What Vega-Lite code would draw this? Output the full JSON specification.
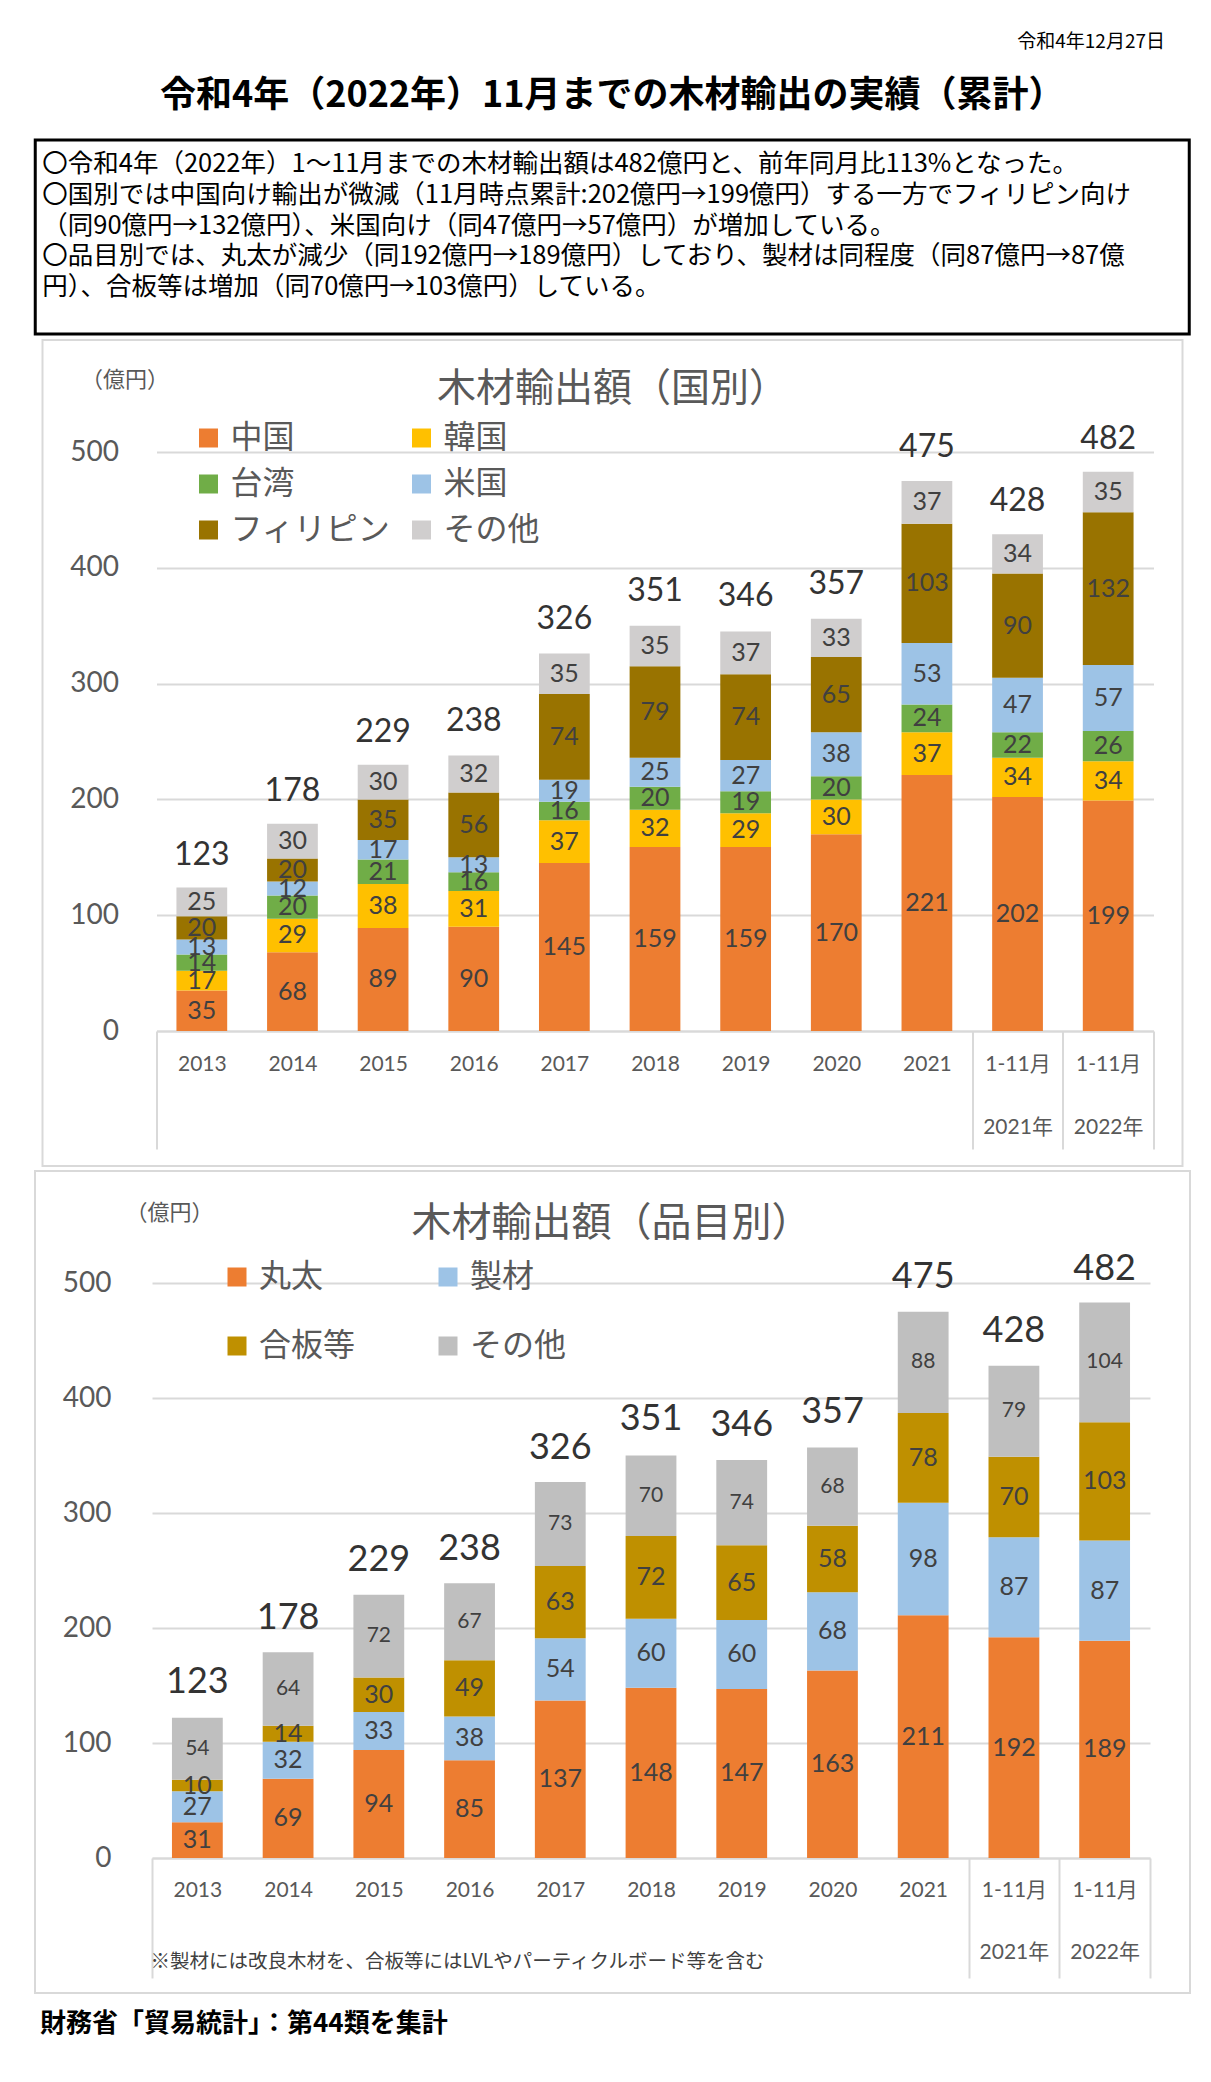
{
  "$schema": "https://vega.github.io/schema/vega-lite/v6.json",
  "background": "white",
  "padding": {"left": 33, "top": 32, "right": 0, "bottom": 0},
  "title": {"text": "令和4年12月27日", "anchor": "end", "fontSize": 19, "fontWeight": "normal", "font": "Noto Sans CJK JP", "color": "#000000", "dx": -26, "offset": 25},
  "spacing": 3,
  "center": true,
  "resolve": {"scale": {"color": "independent", "size": "independent"}, "legend": {"color": "independent"}},
  "datasets": {
    "notes": [
      {"line": 1, "text": "〇令和4年（2022年）1～11月までの木材輸出額は482億円と、前年同月比113%となった。"},
      {"line": 2, "text": "〇国別では中国向け輸出が微減（11月時点累計:202億円→199億円）する一方でフィリピン向け"},
      {"line": 3, "text": "（同90億円→132億円）、米国向け（同47億円→57億円）が増加している。"},
      {"line": 4, "text": "〇品目別では、丸太が減少（同192億円→189億円）しており、製材は同程度（同87億円→87億"},
      {"line": 5, "text": "円）、合板等は増加（同70億円→103億円）している。"}
    ],
    "footer": [{"text": "財務省「貿易統計」：第44類を集計"}],
    "countrySeries": [
      {"country": "中国", "rank": 1}, {"country": "韓国", "rank": 2}, {"country": "台湾", "rank": 3},
      {"country": "米国", "rank": 4}, {"country": "フィリピン", "rank": 5}, {"country": "その他", "rank": 6}
    ],
    "itemSeries": [
      {"item": "丸太", "rank": 1}, {"item": "製材", "rank": 2}, {"item": "合板等", "rank": 3}, {"item": "その他", "rank": 4}
    ],
    "country": [
      {"period": "2013", "country": "中国", "value": 35}, {"period": "2013", "country": "韓国", "value": 17}, {"period": "2013", "country": "台湾", "value": 14}, {"period": "2013", "country": "米国", "value": 13}, {"period": "2013", "country": "フィリピン", "value": 20}, {"period": "2013", "country": "その他", "value": 25},
      {"period": "2014", "country": "中国", "value": 68}, {"period": "2014", "country": "韓国", "value": 29}, {"period": "2014", "country": "台湾", "value": 20}, {"period": "2014", "country": "米国", "value": 12}, {"period": "2014", "country": "フィリピン", "value": 20}, {"period": "2014", "country": "その他", "value": 30},
      {"period": "2015", "country": "中国", "value": 89}, {"period": "2015", "country": "韓国", "value": 38}, {"period": "2015", "country": "台湾", "value": 21}, {"period": "2015", "country": "米国", "value": 17}, {"period": "2015", "country": "フィリピン", "value": 35}, {"period": "2015", "country": "その他", "value": 30},
      {"period": "2016", "country": "中国", "value": 90}, {"period": "2016", "country": "韓国", "value": 31}, {"period": "2016", "country": "台湾", "value": 16}, {"period": "2016", "country": "米国", "value": 13}, {"period": "2016", "country": "フィリピン", "value": 56}, {"period": "2016", "country": "その他", "value": 32},
      {"period": "2017", "country": "中国", "value": 145}, {"period": "2017", "country": "韓国", "value": 37}, {"period": "2017", "country": "台湾", "value": 16}, {"period": "2017", "country": "米国", "value": 19}, {"period": "2017", "country": "フィリピン", "value": 74}, {"period": "2017", "country": "その他", "value": 35},
      {"period": "2018", "country": "中国", "value": 159}, {"period": "2018", "country": "韓国", "value": 32}, {"period": "2018", "country": "台湾", "value": 20}, {"period": "2018", "country": "米国", "value": 25}, {"period": "2018", "country": "フィリピン", "value": 79}, {"period": "2018", "country": "その他", "value": 35},
      {"period": "2019", "country": "中国", "value": 159}, {"period": "2019", "country": "韓国", "value": 29}, {"period": "2019", "country": "台湾", "value": 19}, {"period": "2019", "country": "米国", "value": 27}, {"period": "2019", "country": "フィリピン", "value": 74}, {"period": "2019", "country": "その他", "value": 37},
      {"period": "2020", "country": "中国", "value": 170}, {"period": "2020", "country": "韓国", "value": 30}, {"period": "2020", "country": "台湾", "value": 20}, {"period": "2020", "country": "米国", "value": 38}, {"period": "2020", "country": "フィリピン", "value": 65}, {"period": "2020", "country": "その他", "value": 33},
      {"period": "2021", "country": "中国", "value": 221}, {"period": "2021", "country": "韓国", "value": 37}, {"period": "2021", "country": "台湾", "value": 24}, {"period": "2021", "country": "米国", "value": 53}, {"period": "2021", "country": "フィリピン", "value": 103}, {"period": "2021", "country": "その他", "value": 37},
      {"period": "2021年1-11月", "country": "中国", "value": 202}, {"period": "2021年1-11月", "country": "韓国", "value": 34}, {"period": "2021年1-11月", "country": "台湾", "value": 22}, {"period": "2021年1-11月", "country": "米国", "value": 47}, {"period": "2021年1-11月", "country": "フィリピン", "value": 90}, {"period": "2021年1-11月", "country": "その他", "value": 34},
      {"period": "2022年1-11月", "country": "中国", "value": 199}, {"period": "2022年1-11月", "country": "韓国", "value": 34}, {"period": "2022年1-11月", "country": "台湾", "value": 26}, {"period": "2022年1-11月", "country": "米国", "value": 57}, {"period": "2022年1-11月", "country": "フィリピン", "value": 132}, {"period": "2022年1-11月", "country": "その他", "value": 35}
    ],
    "item": [
      {"period": "2013", "item": "丸太", "value": 31}, {"period": "2013", "item": "製材", "value": 27}, {"period": "2013", "item": "合板等", "value": 10}, {"period": "2013", "item": "その他", "value": 54},
      {"period": "2014", "item": "丸太", "value": 69}, {"period": "2014", "item": "製材", "value": 32}, {"period": "2014", "item": "合板等", "value": 14}, {"period": "2014", "item": "その他", "value": 64},
      {"period": "2015", "item": "丸太", "value": 94}, {"period": "2015", "item": "製材", "value": 33}, {"period": "2015", "item": "合板等", "value": 30}, {"period": "2015", "item": "その他", "value": 72},
      {"period": "2016", "item": "丸太", "value": 85}, {"period": "2016", "item": "製材", "value": 38}, {"period": "2016", "item": "合板等", "value": 49}, {"period": "2016", "item": "その他", "value": 67},
      {"period": "2017", "item": "丸太", "value": 137}, {"period": "2017", "item": "製材", "value": 54}, {"period": "2017", "item": "合板等", "value": 63}, {"period": "2017", "item": "その他", "value": 73},
      {"period": "2018", "item": "丸太", "value": 148}, {"period": "2018", "item": "製材", "value": 60}, {"period": "2018", "item": "合板等", "value": 72}, {"period": "2018", "item": "その他", "value": 70},
      {"period": "2019", "item": "丸太", "value": 147}, {"period": "2019", "item": "製材", "value": 60}, {"period": "2019", "item": "合板等", "value": 65}, {"period": "2019", "item": "その他", "value": 74},
      {"period": "2020", "item": "丸太", "value": 163}, {"period": "2020", "item": "製材", "value": 68}, {"period": "2020", "item": "合板等", "value": 58}, {"period": "2020", "item": "その他", "value": 68},
      {"period": "2021", "item": "丸太", "value": 211}, {"period": "2021", "item": "製材", "value": 98}, {"period": "2021", "item": "合板等", "value": 78}, {"period": "2021", "item": "その他", "value": 88},
      {"period": "2021年1-11月", "item": "丸太", "value": 192}, {"period": "2021年1-11月", "item": "製材", "value": 87}, {"period": "2021年1-11月", "item": "合板等", "value": 70}, {"period": "2021年1-11月", "item": "その他", "value": 79},
      {"period": "2022年1-11月", "item": "丸太", "value": 189}, {"period": "2022年1-11月", "item": "製材", "value": 87}, {"period": "2022年1-11月", "item": "合板等", "value": 103}, {"period": "2022年1-11月", "item": "その他", "value": 104}
    ],
    "totals": [
      {"period": "2013", "total": 123}, {"period": "2014", "total": 178}, {"period": "2015", "total": 229}, {"period": "2016", "total": 238},
      {"period": "2017", "total": 326}, {"period": "2018", "total": 351}, {"period": "2019", "total": 346}, {"period": "2020", "total": 357},
      {"period": "2021", "total": 475}, {"period": "2021年1-11月", "total": 428}, {"period": "2022年1-11月", "total": 482}
    ]
  },
  "vconcat": [
    {
      "width": 1154,
      "height": 194,
      "view": {"stroke": "#000000", "strokeWidth": 3},
      "title": {"text": "令和4年（2022年）11月までの木材輸出の実績（累計）", "fontSize": 36, "fontWeight": "bold", "font": "Noto Sans CJK JP", "color": "#000000", "anchor": "middle", "frame": "group", "offset": 25},
      "data": {"name": "notes"},
      "mark": {"type": "text", "align": "left", "baseline": "middle", "font": "Noto Sans CJK JP", "fontSize": 25.5, "color": "#000000"},
      "encoding": {
        "x": {"datum": 0, "type": "quantitative", "scale": {"domain": [0, 1], "range": [7, 1147]}, "axis": null},
        "y": {"field": "line", "type": "ordinal", "scale": {"type": "point", "range": [24, 147], "padding": 0}, "axis": null},
        "text": {"field": "text"}
      }
    },
    {
      "width": 1140,
      "height": 826,
      "view": {"stroke": "#d9d9d9", "strokeWidth": 2},
      "title": {"text": "木材輸出額（国別）", "font": "Noto Sans CJK JP", "fontSize": 39, "fontWeight": "normal", "color": "#595959", "anchor": "middle", "frame": "group", "offset": -69, "dx": 0},
      "layer": [
        {
          "data": {"name": "country"},
          "transform": [{"lookup": "country", "from": {"data": {"name": "countrySeries"}, "key": "country", "fields": ["rank"]}}],
          "mark": {"type": "bar"},
          "encoding": {
            "x": {
              "field": "period", "type": "nominal",
              "scale": {"range": [114, 1111], "paddingInner": 0.44, "paddingOuter": 0.22},
              "axis": {
                "title": null, "offset": -135, "domainColor": "#d9d9d9", "domainWidth": 2,
                "bandPosition": 1.7857, "tickOffset": -20, "tickExtra": true, "tickSize": 118, "tickWidth": 2,
                "tickColor": {"condition": {"test": "isValid(datum.extra) || !isValid(datum.value) || datum.value === '2021' || datum.value === '2021年1-11月' || datum.value === '2022年1-11月'", "value": "#d9d9d9"}, "value": "transparent"},
                "labelAngle": 0, "labelFont": "Lato, Noto Sans CJK JP", "labelFontSize": 21, "labelColor": "#595959",
                "labelBaseline": "top", "labelPadding": -96, "labelLineHeight": 63, "labelOffset": 20,
                "labelExpr": "datum.value === '2021年1-11月' ? ['1-11月', '2021年'] : datum.value === '2022年1-11月' ? ['1-11月', '2022年'] : datum.label",
                "grid": false
              }
            },
            "y": {
              "field": "value", "type": "quantitative", "stack": "zero",
              "scale": {"domain": [0, 500], "range": [691, 112], "nice": false, "zero": true},
              "axis": {
                "title": "（億円）", "titleAngle": 0, "titleX": -32, "titleY": 39, "titleAlign": "center", "titleBaseline": "middle",
                "titleFont": "Noto Sans CJK JP", "titleFontSize": 22, "titleFontWeight": "normal", "titleColor": "#595959",
                "offset": -114, "domain": false, "ticks": false, "values": [0, 100, 200, 300, 400, 500],
                "labelFont": "Lato", "labelFontSize": 28, "labelColor": "#595959", "labelPadding": 38,
                "grid": true, "gridColor": "#d9d9d9", "gridWidth": 2
              }
            },
            "order": {"field": "rank", "type": "quantitative", "sort": "ascending"},
            "color": {
              "field": "country", "type": "nominal",
              "sort": ["中国", "韓国", "台湾", "米国", "フィリピン", "その他"],
              "scale": {"domain": ["中国", "韓国", "台湾", "米国", "フィリピン", "その他"], "range": ["#ED7D31", "#FFC000", "#70AD47", "#9DC3E6", "#997300", "#D0CECE"]},
              "legend": {
                "orient": "none", "legendX": 150, "legendY": 82, "title": null, "columns": 2, "direction": "horizontal",
                "symbolType": "square", "symbolSize": 361, "symbolStrokeWidth": 0, "symbolOpacity": 1,
                "labelFont": "Noto Sans CJK JP", "labelFontSize": 32, "labelColor": "#595959", "labelOffset": 6,
                "columnPadding": 14, "rowPadding": 14, "padding": 0, "labelLimit": 400
              }
            }
          }
        },
        {
          "data": {"name": "country"},
          "transform": [{"lookup": "country", "from": {"data": {"name": "countrySeries"}, "key": "country", "fields": ["rank"]}}],
          "mark": {"type": "text", "font": "Lato", "fontSize": 25, "baseline": "middle", "color": "#404040"},
          "encoding": {
            "x": {"field": "period", "type": "nominal"},
            "y": {"field": "value", "type": "quantitative", "stack": "zero", "bandPosition": 0.5},
            "order": {"field": "rank", "type": "quantitative", "sort": "ascending"},
            "detail": {"field": "country", "type": "nominal"},
            "text": {"field": "value", "type": "quantitative"}
          }
        },
        {
          "data": {"name": "totals"},
          "mark": {"type": "text", "font": "Lato", "fontSize": 32, "baseline": "alphabetic", "dy": -24, "color": "#333333"},
          "encoding": {
            "x": {"field": "period", "type": "nominal"},
            "y": {"field": "total", "type": "quantitative"},
            "text": {"field": "total", "type": "quantitative"}
          }
        }
      ]
    },
    {
      "width": 1155,
      "height": 822,
      "view": {"stroke": "#d9d9d9", "strokeWidth": 2},
      "title": {"text": "木材輸出額（品目別）", "font": "Noto Sans CJK JP", "fontSize": 40, "fontWeight": "normal", "color": "#595959", "anchor": "middle", "frame": "group", "offset": -73, "dx": -1},
      "layer": [
        {
          "data": {"name": "item"},
          "transform": [{"lookup": "item", "from": {"data": {"name": "itemSeries"}, "key": "item", "fields": ["rank"]}}],
          "mark": {"type": "bar"},
          "encoding": {
            "x": {
              "field": "period", "type": "nominal",
              "scale": {"range": [117, 1115], "paddingInner": 0.44, "paddingOuter": 0.22},
              "axis": {
                "title": "※製材には改良木材を、合板等にはLVLやパーティクルボード等を含む",
                "titleX": 115, "titleY": 103, "titleAlign": "left", "titleBaseline": "middle",
                "titleFont": "Noto Sans CJK JP", "titleFontSize": 19.5, "titleFontWeight": "normal", "titleColor": "#404040",
                "offset": -135, "domainColor": "#d9d9d9", "domainWidth": 2,
                "bandPosition": 1.7857, "tickOffset": -20, "tickExtra": true, "tickSize": 120, "tickWidth": 2,
                "tickColor": {"condition": {"test": "isValid(datum.extra) || !isValid(datum.value) || datum.value === '2021' || datum.value === '2021年1-11月' || datum.value === '2022年1-11月'", "value": "#d9d9d9"}, "value": "transparent"},
                "labelAngle": 0, "labelFont": "Lato, Noto Sans CJK JP", "labelFontSize": 21, "labelColor": "#595959",
                "labelBaseline": "top", "labelPadding": -99, "labelLineHeight": 62, "labelOffset": 20,
                "labelExpr": "datum.value === '2021年1-11月' ? ['1-11月', '2021年'] : datum.value === '2022年1-11月' ? ['1-11月', '2022年'] : datum.label",
                "grid": false
              }
            },
            "y": {
              "field": "value", "type": "quantitative", "stack": "zero",
              "scale": {"domain": [0, 500], "range": [687, 112], "nice": false, "zero": true},
              "axis": {
                "title": "（億円）", "titleAngle": 0, "titleX": 17, "titleY": 41, "titleAlign": "center", "titleBaseline": "middle",
                "titleFont": "Noto Sans CJK JP", "titleFontSize": 22, "titleFontWeight": "normal", "titleColor": "#595959",
                "offset": -117, "domain": false, "ticks": false, "values": [0, 100, 200, 300, 400, 500],
                "labelFont": "Lato", "labelFontSize": 28, "labelColor": "#595959", "labelPadding": 41,
                "grid": true, "gridColor": "#d9d9d9", "gridWidth": 2
              }
            },
            "order": {"field": "rank", "type": "quantitative", "sort": "ascending"},
            "color": {
              "field": "item", "type": "nominal",
              "sort": ["丸太", "製材", "合板等", "その他"],
              "scale": {"domain": ["丸太", "製材", "合板等", "その他"], "range": ["#ED7D31", "#9DC3E6", "#BF9000", "#BFBFBF"]},
              "legend": {
                "orient": "none", "legendX": 186, "legendY": 90, "title": null, "columns": 2, "direction": "horizontal",
                "symbolType": "square", "symbolSize": 361, "symbolStrokeWidth": 0, "symbolOpacity": 1,
                "labelFont": "Noto Sans CJK JP", "labelFontSize": 32, "labelColor": "#595959", "labelOffset": 6,
                "columnPadding": 76, "rowPadding": 37, "padding": 0, "labelLimit": 400
              }
            }
          }
        },
        {
          "data": {"name": "item"},
          "transform": [{"lookup": "item", "from": {"data": {"name": "itemSeries"}, "key": "item", "fields": ["rank"]}}],
          "mark": {"type": "text", "font": "Lato", "baseline": "middle", "color": "#404040"},
          "encoding": {
            "x": {"field": "period", "type": "nominal"},
            "y": {"field": "value", "type": "quantitative", "stack": "zero", "bandPosition": 0.5},
            "order": {"field": "rank", "type": "quantitative", "sort": "ascending"},
            "detail": {"field": "item", "type": "nominal"},
            "size": {"condition": {"test": "datum.item === 'その他'", "value": 21}, "value": 25},
            "text": {"field": "value", "type": "quantitative"}
          }
        },
        {
          "data": {"name": "totals"},
          "mark": {"type": "text", "font": "Lato", "fontSize": 36, "baseline": "alphabetic", "dy": -24, "color": "#333333"},
          "encoding": {
            "x": {"field": "period", "type": "nominal"},
            "y": {"field": "total", "type": "quantitative"},
            "text": {"field": "total", "type": "quantitative"}
          }
        }
      ]
    },
    {
      "width": 1154,
      "height": 54,
      "view": {"stroke": null},
      "data": {"name": "footer"},
      "mark": {"type": "text", "align": "left", "baseline": "middle", "font": "Noto Sans CJK JP", "fontSize": 26, "fontWeight": "bold", "color": "#000000"},
      "encoding": {
        "x": {"datum": 0, "type": "quantitative", "scale": {"domain": [0, 1], "range": [4, 1147]}, "axis": null},
        "text": {"field": "text"}
      }
    }
  ]
}
